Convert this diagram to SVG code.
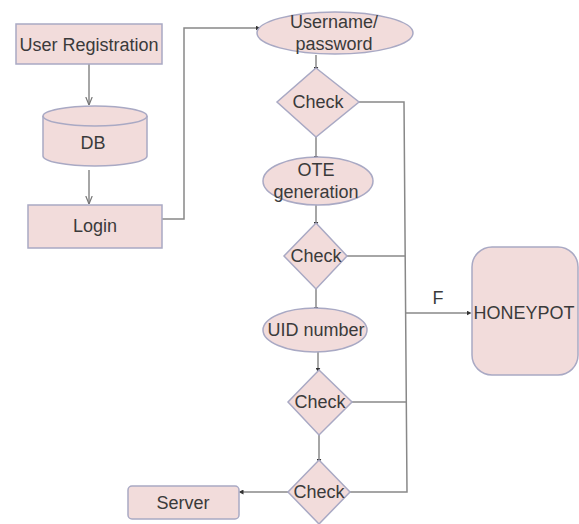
<svg xmlns="http://www.w3.org/2000/svg" width="579" height="524" viewBox="0 0 579 524">
<defs>
<marker id="dot" viewBox="0 0 6 6" refX="3" refY="3" markerWidth="5" markerHeight="5" orient="auto" markerUnits="userSpaceOnUse">
<path d="M0,0 L6,3 L0,6 Z" fill="#333"/>
</marker>
<marker id="arr" viewBox="0 0 10 10" refX="10" refY="5" markerWidth="8" markerHeight="8" orient="auto" markerUnits="userSpaceOnUse">
<path d="M0,1 L10,5 L0,9" fill="none" stroke="#777" stroke-width="1.5"/>
</marker>
</defs>
<style>
.n{fill:#f2dcdb;stroke:#a9a9c4;stroke-width:1.5}
.t{font-family:"Liberation Sans",Arial,sans-serif;font-size:18px;fill:#3a3a3a;text-anchor:middle}
.c{fill:none;stroke:#888;stroke-width:1.5}
</style>
<rect width="579" height="524" fill="#fff"/>
<g id="connectors">
<path class="c" d="M89,64 V105" marker-end="url(#arr)"/>
<path class="c" d="M89,170 V204" marker-end="url(#arr)"/>
<path class="c" d="M162,219 H184 V28 H258" marker-end="url(#dot)"/>
<path class="c" d="M316,55 V69" marker-end="url(#dot)"/>
<path class="c" d="M316,137 V158" marker-end="url(#dot)"/>
<path class="c" d="M316,205 V224" marker-end="url(#dot)"/>
<path class="c" d="M316,288 V309" marker-end="url(#dot)"/>
<path class="c" d="M318,352 V370" marker-end="url(#dot)"/>
<path class="c" d="M319,435 V461" marker-end="url(#dot)"/>
<path class="c" d="M359,102 H404 L407,492 H350"/>
<path class="c" d="M347,256 H405"/>
<path class="c" d="M352,402 H406"/>
<path class="c" d="M406,313 H469" marker-end="url(#dot)"/>
<path class="c" d="M288,492 H241" marker-end="url(#dot)"/>
<text class="t" x="438" y="304">F</text>
</g>
<g id="user-registration">
<rect class="n" x="16" y="24" width="146" height="40"/>
<text class="t" x="89" y="51">User Registration</text>
</g>
<g id="db">
<path class="n" d="M43,116 V156 A52,10 0 0 0 147,156 V116 A52,10 0 0 0 43,116 Z"/>
<path class="n" d="M43,116 A52,10 0 0 0 147,116" fill="none"/>
<text class="t" x="93" y="149">DB</text>
</g>
<g id="login">
<rect class="n" x="28" y="205" width="134" height="43"/>
<text class="t" x="95" y="232">Login</text>
</g>
<g id="username">
<ellipse class="n" cx="335" cy="33" rx="78" ry="21"/>
<text class="t" x="334" y="28">Username/</text>
<text class="t" x="334" y="50">password</text>
</g>
<g id="check1">
<path class="n" d="M316,68 L359,102 L316,137 L277,102 Z"/>
<text class="t" x="318" y="108">Check</text>
</g>
<g id="ote">
<ellipse class="n" cx="318" cy="181" rx="55" ry="24"/>
<text class="t" x="316" y="176">OTE</text>
<text class="t" x="316" y="198">generation</text>
</g>
<g id="check2">
<path class="n" d="M316,223 L347,256 L316,289 L284,256 Z"/>
<text class="t" x="316" y="262">Check</text>
</g>
<g id="uid">
<ellipse class="n" cx="315" cy="330" rx="52" ry="22"/>
<text class="t" x="316" y="336">UID number</text>
</g>
<g id="check3">
<path class="n" d="M319,370 L352,402 L319,435 L288,402 Z"/>
<text class="t" x="320" y="408">Check</text>
</g>
<g id="check4">
<path class="n" d="M319,460 L350,492 L319,524 L288,492 Z"/>
<text class="t" x="319" y="498">Check</text>
</g>
<g id="server">
<rect class="n" x="128" y="486" width="111" height="33" rx="4"/>
<text class="t" x="183" y="509">Server</text>
</g>
<g id="honeypot">
<rect class="n" x="472" y="247" width="106" height="128" rx="20"/>
<text class="t" x="524" y="319">HONEYPOT</text>
</g>
</svg>
